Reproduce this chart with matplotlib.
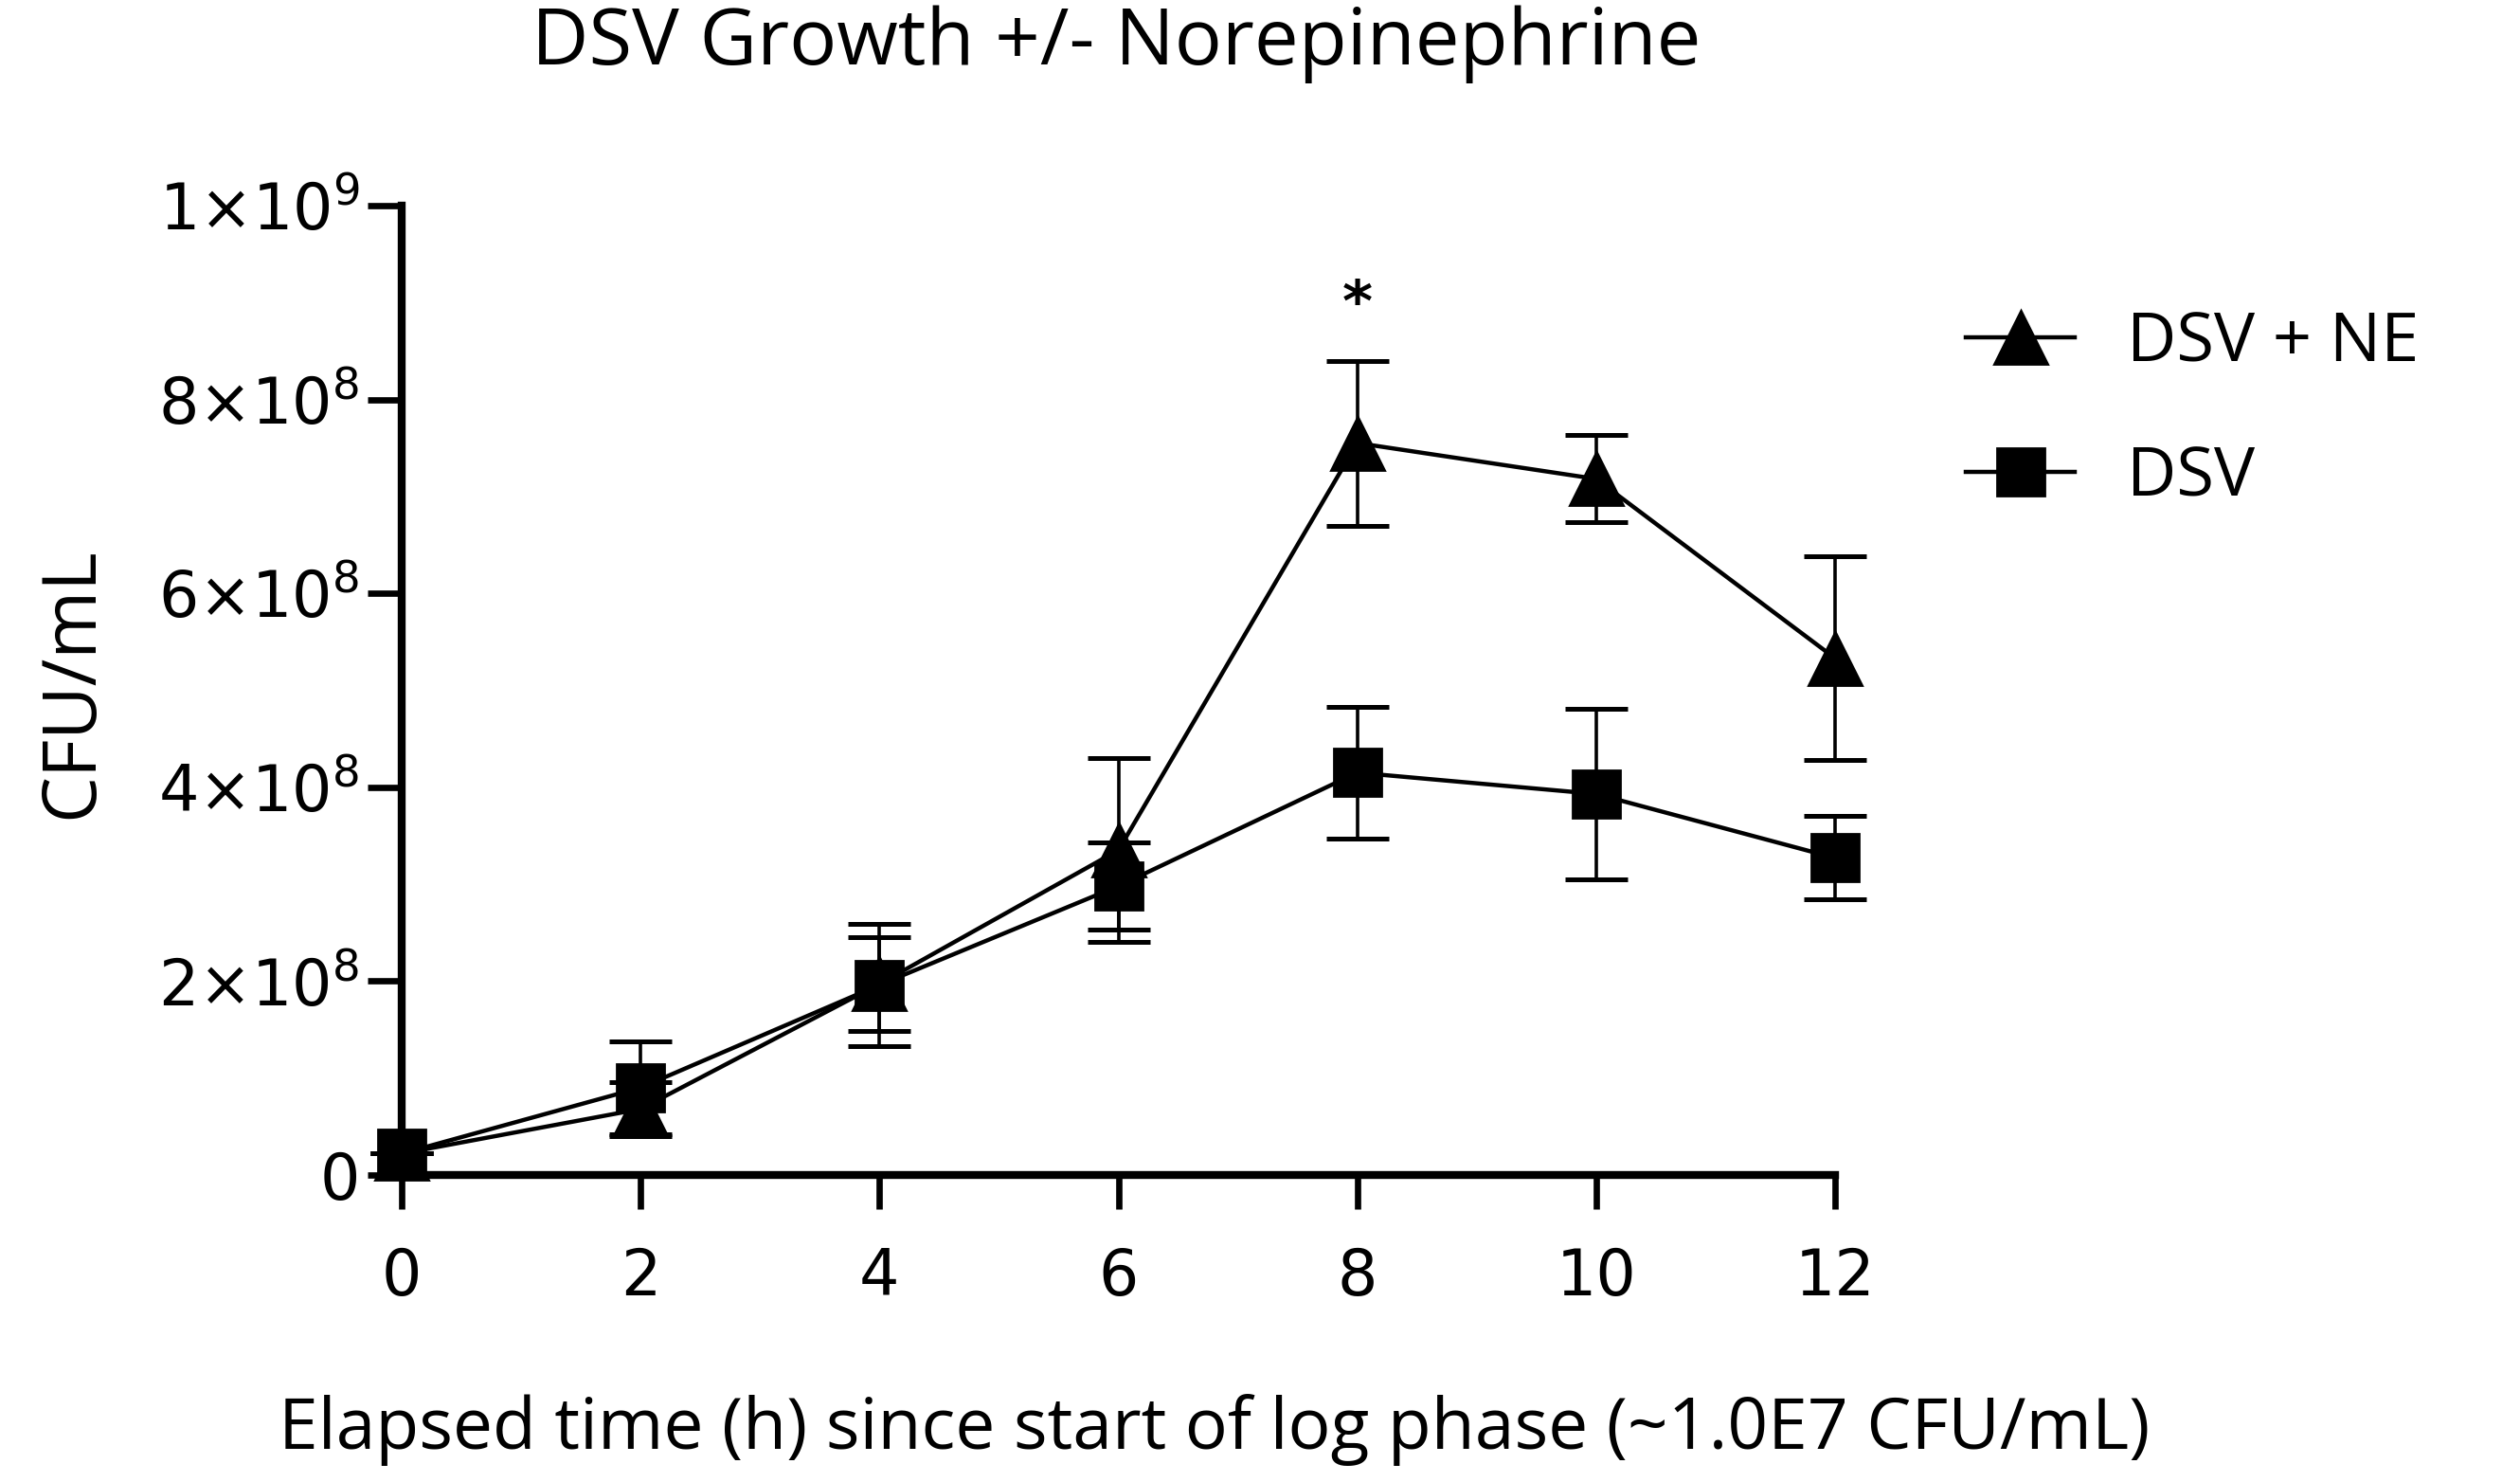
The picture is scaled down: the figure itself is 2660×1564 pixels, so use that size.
import matplotlib
matplotlib.use("Agg")
import matplotlib.pyplot as plt
from matplotlib.lines import Line2D
import numpy as np

# data
hours = [0, 2, 4, 6, 8, 10, 12]
ne_mean = [2.2e7, 6.8e7, 1.97e8, 3.35e8, 7.55e8, 7.18e8, 5.33e8]
ne_err = [0, 2.8e7, 4.8e7, 9.5e7, 8.5e7, 4.5e7, 1.05e8]
dsv_mean = [2.2e7, 9.0e7, 1.96e8, 2.98e8, 4.15e8, 3.93e8, 3.27e8]
dsv_err = [0, 4.8e7, 6.3e7, 4.5e7, 6.8e7, 8.8e7, 4.3e7]
yticks = [0, 2e8, 4e8, 6e8, 8e8, 1e9]
ytick_labels = ["0", r"$2{\times}10^{8}$", r"$4{\times}10^{8}$",
                r"$6{\times}10^{8}$", r"$8{\times}10^{8}$", r"$1{\times}10^{9}$"]

narrow = ["Liberation Sans Narrow", "Open Sans", "DejaVu Sans"]

fig = plt.figure(figsize=(13.3, 7.82), dpi=200)
ax = fig.add_axes([0.1594, 0.2072, 0.5688, 0.6541])

ax.errorbar(hours, ne_mean, yerr=ne_err, color="black", marker="^", ms=20,
            lw=1.6, elinewidth=1.3, capsize=12, capthick=1.8, zorder=3)
ax.errorbar(hours, dsv_mean, yerr=dsv_err, color="black", marker="s", ms=18,
            lw=1.6, elinewidth=1.3, capsize=12, capthick=1.8, zorder=3)

ax.text(8, 8.97e8, "*", ha="center", va="center", fontsize=22,
        fontweight="bold")

ax.set_xlim(0, 12)
ax.set_ylim(0, 1e9)
ax.set_xticks(hours)
ax.set_yticks(yticks)
ax.set_yticklabels(ytick_labels)
for s in ["top", "right"]:
    ax.spines[s].set_visible(False)
for s in ["left", "bottom"]:
    ax.spines[s].set_linewidth(3.0)
ax.tick_params(axis="both", length=13, width=2.4, labelsize=24, direction="out")
ax.tick_params(axis="x", pad=14)
ax.tick_params(axis="y", pad=3)
for c in ax.get_children():
    try:
        c.set_clip_on(False)
    except Exception:
        pass

fig.text(0.443, 0.970, "DSV Growth +/- Norepinephrine", ha="center",
         va="center", fontsize=30, family=narrow)
fig.text(0.482, 0.035, "Elapsed time (h) since start of log phase (~1.0E7 CFU/mL)",
         ha="center", va="center", fontsize=27, family=narrow)
fig.text(0.029, 0.539, "CFU/mL", ha="center", va="center", rotation=90,
         fontsize=28, family=narrow)

handles = [Line2D([], [], color="black", marker="^", ms=20, lw=1.6),
           Line2D([], [], color="black", marker="s", ms=18, lw=1.6)]
ax.legend(handles, ["DSV + NE", "DSV"], loc="upper left",
          bbox_to_anchor=(0.780, 0.791), bbox_transform=fig.transFigure,
          frameon=False, prop={"family": narrow, "size": 26},
          handlelength=1.6, labelspacing=0.98, handletextpad=0.75,
          borderpad=0, borderaxespad=0)

fig.savefig("out.png", dpi=200)
